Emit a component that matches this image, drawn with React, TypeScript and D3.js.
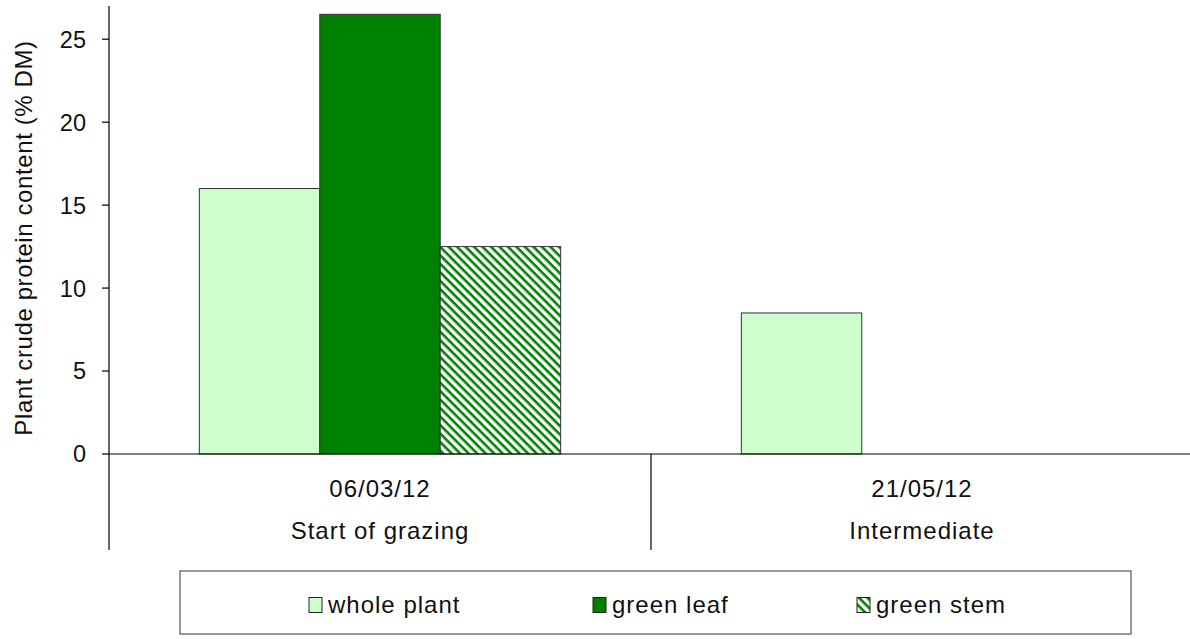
import React from "react";
import * as d3 from "d3";

const dates = ["06/03/12", "21/05/12"];
const stages = ["Start of grazing", "Intermediate"];
const seriesNames = ["whole plant", "green leaf", "green stem"];
const wholePlant = [16.0, 8.5];
const greenLeaf = [26.5, null];
const greenStem = [12.5, null];
const yTicks = [0, 5, 10, 15, 20, 25];

const seriesValues = [wholePlant, greenLeaf, greenStem];
const fills = ["#CCFFCC", "#008000", "url(#hatch)"];

export default function App() {
  const W = 1190, H = 639;
  const x0 = 109, x1 = 1193, yTop = 6, yZero = 454, yBottom = 550;
  const y = d3.scaleLinear().domain([0, 27]).range([yZero, yTop]);
  const xCat = d3.scaleBand().domain(dates).range([x0, x1]).paddingInner(0).paddingOuter(0);
  const xSer = d3.scaleBand().domain(seriesNames).range([0, xCat.bandwidth()]).paddingOuter(0.75).paddingInner(0);
  const font = "Liberation Sans, Arial, sans-serif";

  const legendItems = [
    { name: seriesNames[0], x: 309 },
    { name: seriesNames[1], x: 593 },
    { name: seriesNames[2], x: 857 },
  ];

  return (
    <svg width={W} height={H} style={{ position: "absolute", left: 0, top: 0, background: "#fff" }} fontFamily={font}>
      <defs>
        <pattern id="hatch" patternUnits="userSpaceOnUse" width="6" height="6" patternTransform="rotate(45)">
          <rect width="6" height="6" fill="#fff" />
          <rect width="6" height="2.6" fill="#008000" />
        </pattern>
      </defs>
      <rect width={W} height={H} fill="#fff" />
      {dates.map((d, ci) =>
        seriesValues.map((vals, si) => {
          const v = vals[ci];
          if (v == null) return null;
          const bx = (xCat(d) as number) + (xSer(seriesNames[si]) as number);
          return (
            <rect key={d + si} x={bx} y={y(v)} width={xSer.bandwidth()} height={yZero - y(v)}
              fill={fills[si]} stroke="#333" strokeWidth={1} />
          );
        })
      )}
      <line x1={x0} x2={x0} y1={yTop} y2={yBottom} stroke="#000" strokeWidth={1.2} />
      <line x1={x0} x2={W} y1={yZero} y2={yZero} stroke="#000" strokeWidth={1.2} />
      <line x1={(xCat(dates[1]) as number)} x2={(xCat(dates[1]) as number)} y1={yZero} y2={yBottom} stroke="#000" strokeWidth={1.2} />
      {yTicks.map((t) => (
        <g key={t}>
          <line x1={x0 - 7} x2={x0} y1={y(t)} y2={y(t)} stroke="#000" strokeWidth={1.2} />
          <text x={86} y={y(t)} dy="0.36em" textAnchor="end" fontSize={23.5} fill="#111">{t}</text>
        </g>
      ))}
      {dates.map((d, i) => {
        const cx = (xCat(d) as number) + xCat.bandwidth() / 2;
        return (
          <g key={d}>
            <text x={cx} y={497} textAnchor="middle" fontSize={24} letterSpacing={1} fill="#111">{d}</text>
            <text x={cx} y={539} textAnchor="middle" fontSize={24} letterSpacing={1} fill="#111">{stages[i]}</text>
          </g>
        );
      })}
      <text transform={`translate(32,${238}) rotate(-90)`} textAnchor="middle" fontSize={24} letterSpacing={0.6} fill="#111">
        Plant crude protein content (% DM)
      </text>
      <rect x={180} y={571} width={951} height={63} fill="#fff" stroke="#555" strokeWidth={1.2} />
      {legendItems.map((it, i) => (
        <g key={it.name}>
          <rect x={it.x} y={597.5} width={13} height={15} fill={fills[i]} stroke="#222" strokeWidth={1} />
          <text x={it.x + 19} y={613} fontSize={24} letterSpacing={1} fill="#111">{it.name}</text>
        </g>
      ))}
    </svg>
  );
}
